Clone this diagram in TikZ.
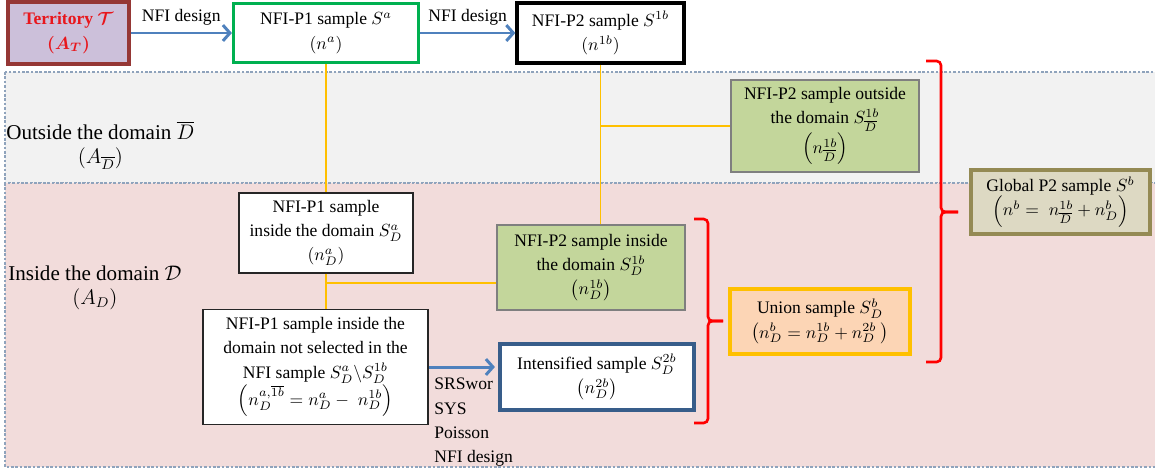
\documentclass[tikz,border=0pt]{standalone}
\usepackage{amsmath,amssymb,bm}
\usepackage{fontspec}
\setmainfont{Liberation Serif}
\usetikzlibrary{shapes,arrows.meta,positioning}
\definecolor{arrowblue}{HTML}{4F81BD}
\definecolor{terrfill}{HTML}{CCC0DA}
\definecolor{terredge}{HTML}{953735}
\definecolor{terrtext}{HTML}{E8161C}
\definecolor{p1green}{HTML}{00B050}
\definecolor{linkorange}{HTML}{FFC000}
\definecolor{p2fill}{HTML}{C3D69B}
\definecolor{p2edge}{HTML}{7F7F7F}
\definecolor{intedge}{HTML}{385D8A}
\definecolor{unionfill}{HTML}{FCD5B5}
\definecolor{globfill}{HTML}{DDD9C3}
\definecolor{globedge}{HTML}{948A54}
\definecolor{outfill}{HTML}{F2F2F2}
\definecolor{infill}{HTML}{F2DCDB}
\definecolor{regionedge}{HTML}{8FA3BC}
\tikzstyle{region} = [draw=regionedge, dash pattern=on 1.5pt off 1pt, 
    line width=0.6pt]
\tikzstyle{arealabel} = [align=center, inner sep=0pt, 
    font=\fontsize{12}{13.8}\selectfont]
\tikzstyle{box} = [rectangle, draw, align=center, inner sep=2pt]
\tikzstyle{terrbox} = [box, fill=terrfill, draw=terredge, line width=1.8pt, 
    text=terrtext, font=\fontsize{10}{13.8}\selectfont\bfseries, 
    minimum width=2.42cm, minimum height=1.24cm]
\tikzstyle{p1box} = [box, draw=p1green, fill=white, line width=1.8pt]
\tikzstyle{p2box} = [box, draw=black, fill=white, line width=1.9pt]
\tikzstyle{plainbox} = [box, draw=black!85, fill=white, line width=0.6pt]
\tikzstyle{greenbox} = [box, draw=p2edge, fill=p2fill, line width=0.8pt]
\tikzstyle{intbox} = [box, draw=intedge, fill=white, line width=1.8pt]
\tikzstyle{unionbox} = [box, draw=linkorange, fill=unionfill, line width=1.8pt]
\tikzstyle{globbox} = [box, draw=globedge, fill=globfill, line width=1.8pt]
\tikzstyle{flow} = [draw=arrowblue, line width=1.7pt, 
    -{Straight Barb[length=4pt,width=9pt]}]
\tikzstyle{link} = [draw=linkorange, line width=0.9pt]
\tikzstyle{brace} = [draw=red, line width=1.5pt, rounded corners=2.5pt]

\begin{document}
\begin{tikzpicture}[x=0.02cm, y=-0.02cm, font=\fontsize{10}{13.8}\selectfont]
    \useasboundingbox (0,0) rectangle (1155,471);
    % Draw areas
    \path [region, fill=outfill] (5,72) rectangle (1160,183);
    \path [region, fill=infill] (5,183) rectangle (1160,467);
    \node [arealabel, anchor=west] (outlbl) at (6,145) 
    {Outside the domain $\overline{D}$\\$(A_{\overline{D}})$};
    \node [arealabel, anchor=west] (inlbl) at (8,288) 
    {Inside the domain $\mathcal{D}$\\$(A_D)$};

    % Place nodes
    \node [terrbox] (terr) at (68.5,33) {Territory $\bm{\mathcal{T}}$\\
    $\bm{(A_T)}$};
    \node [p1box, minimum width=3.7cm, minimum height=1.18cm] (p1) 
    at (326,33) {NFI-P1 sample $S^a$\\$(n^a)$};
    \node [p2box, minimum width=3.34cm, minimum height=1.2cm] (p2) 
    at (600.5,33) {NFI-P2 sample $S^{1b}$\\$(n^{1b})$};
    \node [greenbox, minimum width=3.76cm, minimum height=1.84cm] (p2out) 
    at (825,126) {NFI-P2 sample outside\\the domain $S^{1b}_{\overline{D}}$\\
    $\left(n^{1b}_{\overline{D}}\right)$};
    \node [plainbox, minimum width=3.48cm, minimum height=1.6cm] (p1in) 
    at (326,233) {NFI-P1 sample\\inside the domain $S^a_D$\\$(n^a_D)$};
    \node [greenbox, minimum width=3.76cm, minimum height=1.7cm] (p2in) 
    at (591,267.5) {NFI-P2 sample inside\\the domain $S^{1b}_D$\\
    $\left(n^{1b}_D\right)$};
    \node [plainbox, minimum width=4.5cm, minimum height=2.3cm] (p1not) 
    at (315.5,367) {NFI-P1 sample inside the\\domain not selected in the\\
    NFI sample $S^a_D\backslash S^{1b}_D$\\
    $\left(n^{a,\overline{1b}}_D = n^a_D -\; n^{1b}_D\right)$};
    \node [intbox, minimum width=3.88cm, minimum height=1.32cm] (inten) 
    at (597,377) {Intensified sample $S^{2b}_D$\\$\left(n^{2b}_D\right)$};
    \node [unionbox, minimum width=3.6cm, minimum height=1.3cm] (union) 
    at (820,321.5) {Union sample $S^b_D$\\
    $\left(n^b_D = n^{1b}_D + n^{2b}_D\ \right)$};
    \node [globbox, minimum width=3.58cm, minimum height=1.28cm] (glob) 
    at (1060.5,202) {Global P2 sample $S^b$\\
    $\left(n^b =\; n^{1b}_{\overline{D}} + n^b_D\right)$};
    \node [anchor=north west, align=left, inner sep=0pt] (meth) 
    at (434,378) {SRSwor\\SYS\\Poisson\\NFI design};

    % Draw edges
    \path [flow] (terr) -- node [above] {NFI design} (p1);
    \path [flow] (p1) -- node [above] {NFI design} (p2);
    \path [flow, shorten >=2pt] (p1not.east) -- (p1not.east -| inten.west);
    \coordinate (p1fork) at (326,283);
    \path [link] (p1) -- (p1in);
    \path [link] (p1in.south) -- (p1in.south |- p1not.north);
    \path [link] (p1fork) -- (p1fork -| p2in.west);
    \path [link] (p2.south) -- (p2.south |- p2in.north);
    \path [link] (p2.south |- p2out.west) -- (p2out.west);

    % Draw braces
    \coordinate (sbtop) at (694,219);
    \coordinate (sbmid) at (708,321);
    \coordinate (sbtip) at (723,321);
    \coordinate (sbbot) at (694,423);
    \path [brace] (sbtop) -| (sbmid) -- (sbtip);
    \path [brace] (sbbot) -| (sbmid) -- (sbtip);
    \coordinate (bbtop) at (926,61);
    \coordinate (bbmid) at (941,212);
    \coordinate (bbtip) at (958,212);
    \coordinate (bbbot) at (926,362);
    \path [brace] (bbtop) -| (bbmid) -- (bbtip);
    \path [brace] (bbbot) -| (bbmid) -- (bbtip);
\end{tikzpicture}
\end{document}
